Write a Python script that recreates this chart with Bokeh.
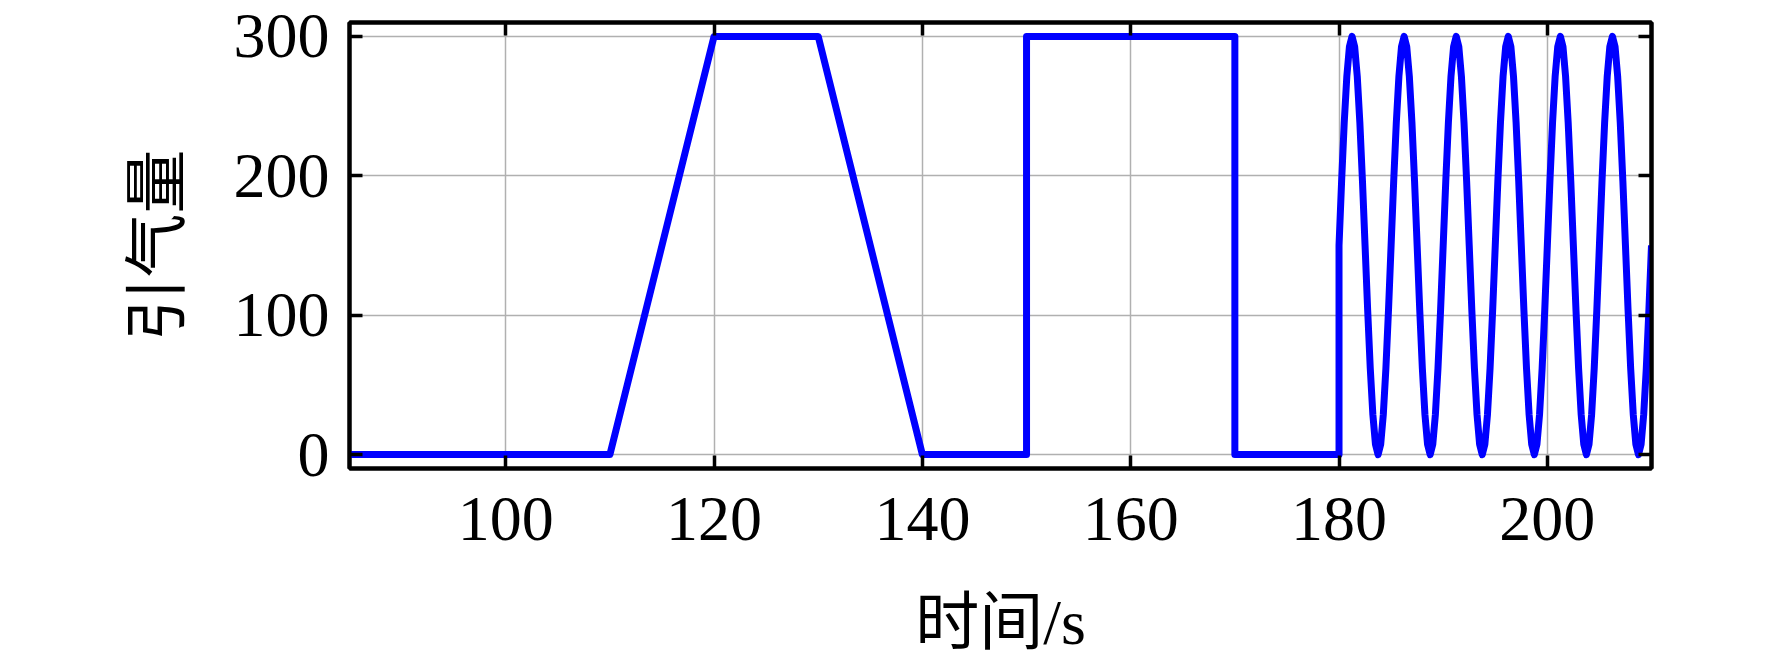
from bokeh.plotting import figure
from bokeh.models import LinearAxis, FixedTicker, Range1d
from bokeh.embed import file_html
from bokeh.resources import INLINE

# ---- data ----
ramp_t = [85, 110, 120, 130, 140, 150, 150, 170, 170, 180]
ramp_y = [0, 0, 300, 300, 0, 0, 300, 300, 0, 0]

sine_t = [
    180.0, 180.25, 180.5, 180.75, 181.0, 181.25, 181.5, 181.75, 182.0, 182.25,
    182.5, 182.75, 183.0, 183.25, 183.5, 183.75, 184.0, 184.25, 184.5, 184.75,
    185.0, 185.25, 185.5, 185.75, 186.0, 186.25, 186.5, 186.75, 187.0, 187.25,
    187.5, 187.75, 188.0, 188.25, 188.5, 188.75, 189.0, 189.25, 189.5, 189.75,
    190.0, 190.25, 190.5, 190.75, 191.0, 191.25, 191.5, 191.75, 192.0, 192.25,
    192.5, 192.75, 193.0, 193.25, 193.5, 193.75, 194.0, 194.25, 194.5, 194.75,
    195.0, 195.25, 195.5, 195.75, 196.0, 196.25, 196.5, 196.75, 197.0, 197.25,
    197.5, 197.75, 198.0, 198.25, 198.5, 198.75, 199.0, 199.25, 199.5, 199.75,
    200.0, 200.25, 200.5, 200.75, 201.0, 201.25, 201.5, 201.75, 202.0, 202.25,
    202.5, 202.75, 203.0, 203.25, 203.5, 203.75, 204.0, 204.25, 204.5, 204.75,
    205.0, 205.25, 205.5, 205.75, 206.0, 206.25, 206.5, 206.75, 207.0, 207.25,
    207.5, 207.75, 208.0, 208.25, 208.5, 208.75, 209.0, 209.25, 209.5, 209.75,
    210.0,
]
sine_y = [
    150, 196.4, 238.2, 271.4, 292.7, 300, 292.7, 271.4, 238.2, 196.4,
    150, 103.6, 61.8, 28.6, 7.3, 0, 7.3, 28.6, 61.8, 103.6,
    150, 196.4, 238.2, 271.4, 292.7, 300, 292.7, 271.4, 238.2, 196.4,
    150, 103.6, 61.8, 28.6, 7.3, 0, 7.3, 28.6, 61.8, 103.6,
    150, 196.4, 238.2, 271.4, 292.7, 300, 292.7, 271.4, 238.2, 196.4,
    150, 103.6, 61.8, 28.6, 7.3, 0, 7.3, 28.6, 61.8, 103.6,
    150, 196.4, 238.2, 271.4, 292.7, 300, 292.7, 271.4, 238.2, 196.4,
    150, 103.6, 61.8, 28.6, 7.3, 0, 7.3, 28.6, 61.8, 103.6,
    150, 196.4, 238.2, 271.4, 292.7, 300, 292.7, 271.4, 238.2, 196.4,
    150, 103.6, 61.8, 28.6, 7.3, 0, 7.3, 28.6, 61.8, 103.6,
    150, 196.4, 238.2, 271.4, 292.7, 300, 292.7, 271.4, 238.2, 196.4,
    150, 103.6, 61.8, 28.6, 7.3, 0, 7.3, 28.6, 61.8, 103.6,
    150,
]

x_ticks = [100, 120, 140, 160, 180, 200]
y_ticks = [0, 100, 200, 300]
x_label = "时间/s"
y_label = "引气量"

t_all = ramp_t + sine_t
y_all = ramp_y + sine_y

SERIF = "'Liberation Serif', 'Noto Sans CJK SC'"

p = figure(
    output_backend="svg", toolbar_location=None,
    frame_width=1302, frame_height=446,
    min_border_left=349, min_border_right=105,
    min_border_top=22, min_border_bottom=183,
    x_range=Range1d(85, 210), y_range=Range1d(-10, 310),
    x_axis_location=None, y_axis_location=None,
)
p.background_fill_color = "white"
p.border_fill_color = "white"
p.outline_line_color = "black"
p.outline_line_width = 4

xt = FixedTicker(ticks=x_ticks)
yt = FixedTicker(ticks=y_ticks)


def style(ax, ticks, labels=True):
    ax.axis_line_color = "black"
    ax.axis_line_width = 4
    ax.major_tick_in = 13
    ax.major_tick_out = 0
    ax.major_tick_line_width = 3.5
    ax.major_tick_line_color = "black"
    ax.minor_tick_line_color = None
    if labels:
        ax.major_label_text_font = SERIF
        ax.major_label_text_font_size = "64px"
        ax.major_label_text_color = "black"
        ax.axis_label_text_font = SERIF
        ax.axis_label_text_font_size = "64px"
        ax.axis_label_text_font_style = "normal"
        ax.axis_label_text_color = "black"
    else:
        ax.major_label_overrides = {t: "" for t in ticks}
        ax.major_label_text_font_size = "1px"
        ax.major_label_standoff = 0


bottom = LinearAxis(ticker=xt, axis_label=x_label)
style(bottom, x_ticks)
bottom.major_label_standoff = 29
bottom.axis_label_standoff = 44
left = LinearAxis(ticker=yt, axis_label=y_label)
style(left, y_ticks)
left.major_label_standoff = 20
left.axis_label_standoff = 38
top = LinearAxis(ticker=xt)
style(top, x_ticks, labels=False)
right = LinearAxis(ticker=yt)
style(right, y_ticks, labels=False)

p.add_layout(bottom, "below")
p.add_layout(left, "left")
p.add_layout(top, "above")
p.add_layout(right, "right")

p.xgrid.ticker = xt
p.ygrid.ticker = yt
p.xgrid.grid_line_color = "#b0b0b0"
p.ygrid.grid_line_color = "#b0b0b0"
p.xgrid.grid_line_width = 1.5
p.ygrid.grid_line_width = 1.5

p.line(t_all, y_all, line_color="#0000ff", line_width=7, line_join="round")

open("out.html", "w").write(file_html(p, INLINE))
